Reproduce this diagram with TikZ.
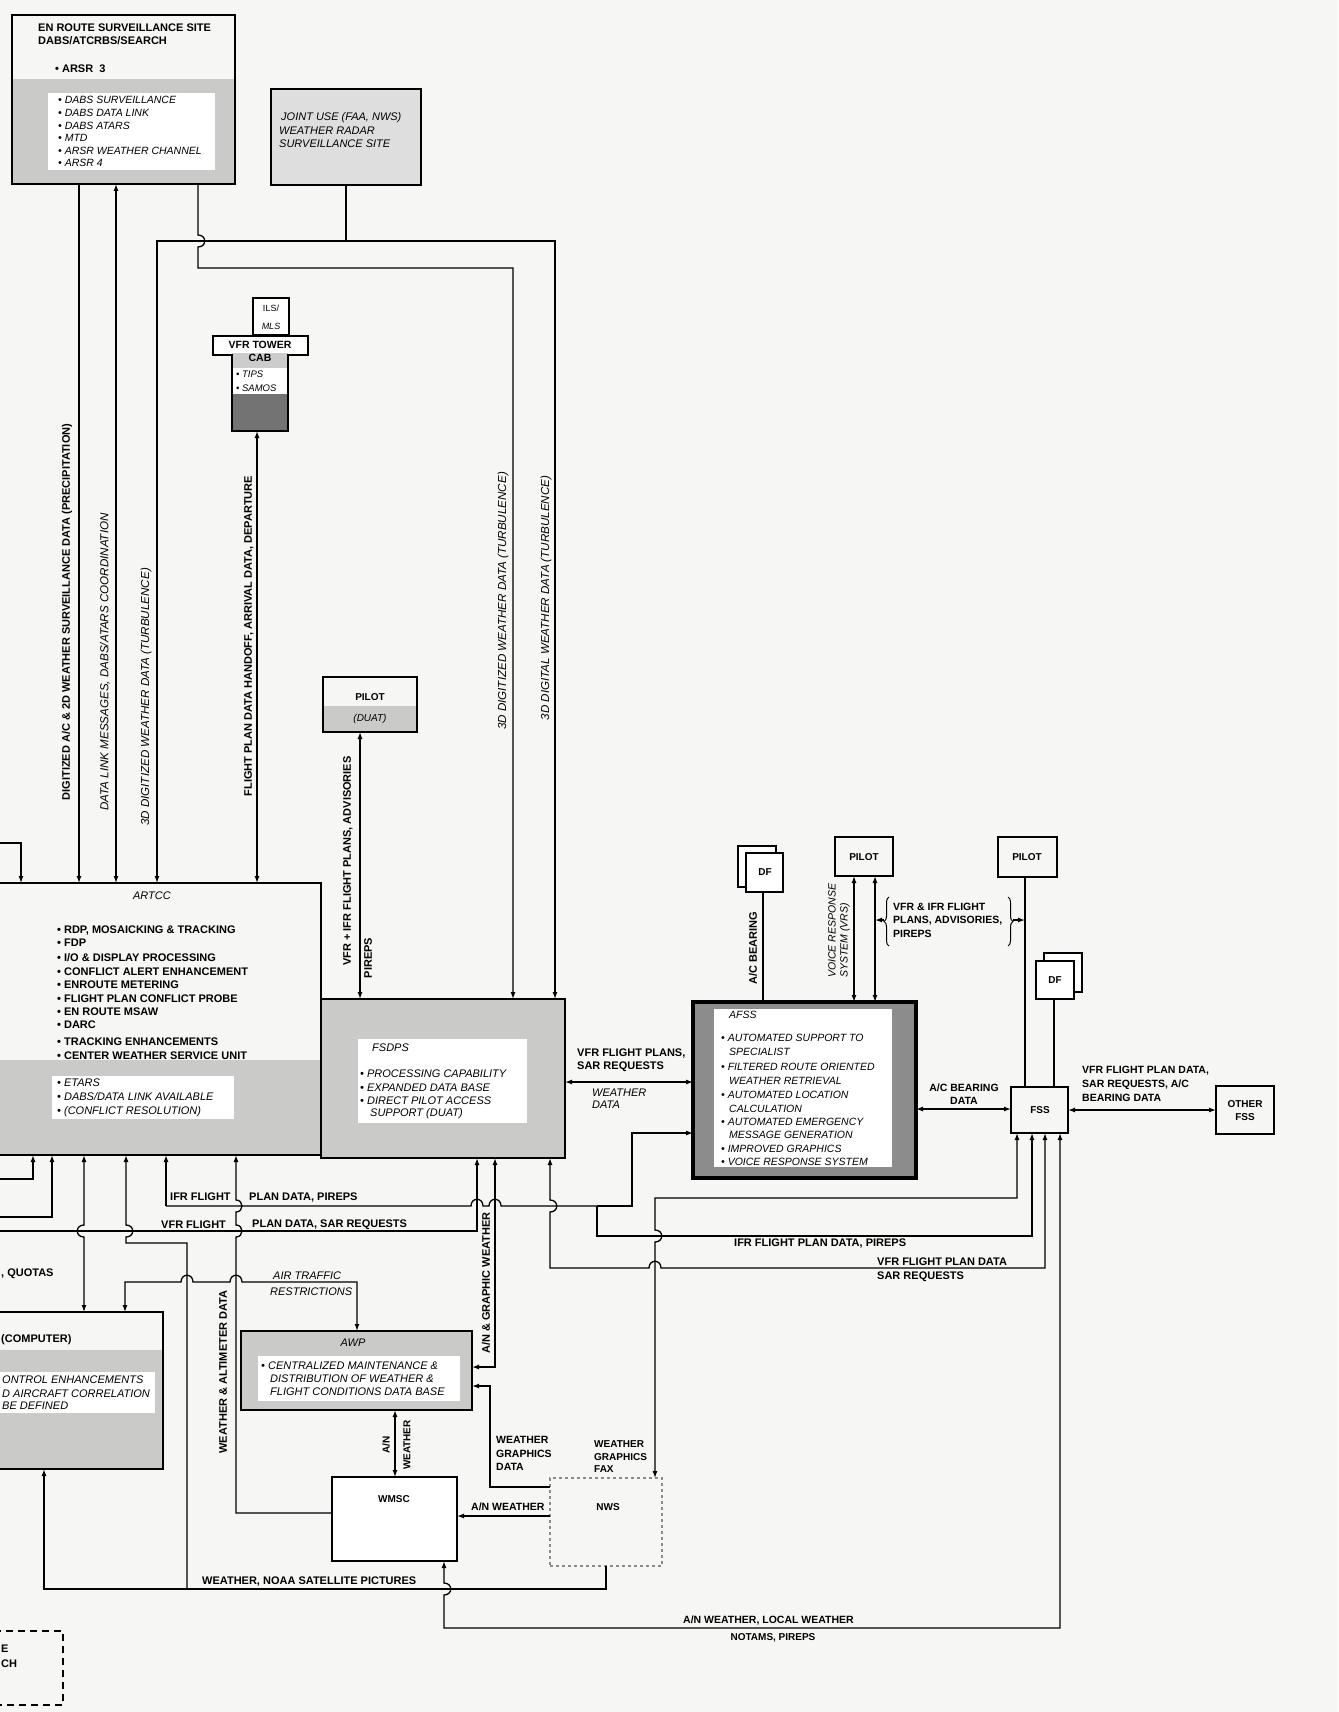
\documentclass[tikz,border=0pt]{standalone}
\usepackage{fontspec}
\setmainfont{Liberation Sans}
\usetikzlibrary{arrows.meta,decorations.pathreplacing}
\definecolor{paper}{RGB}{246,246,244}
\definecolor{halftone}{RGB}{202,202,200}
% hops: vertical going down / up (bulge #3), horizontal going right (bump up)
\newcommand{\hopD}[3]{-- (#1,{#2-6}) .. controls ({#1+(#3)},{#2-6}) and ({#1+(#3)},{#2+6}) .. (#1,{#2+6})}
\newcommand{\hopU}[3]{-- (#1,{#2+6}) .. controls ({#1+(#3)},{#2+6}) and ({#1+(#3)},{#2-6}) .. (#1,{#2-6})}
\newcommand{\hopR}[2]{-- ({#1-6},#2) .. controls ({#1-6},{#2-9}) and ({#1+6},{#2-9}) .. ({#1+6},#2)}
\begin{document}
\begin{tikzpicture}[x=1pt,y=-1pt,
  box/.style={draw, line width=2.6pt, inner sep=0pt, outer sep=0pt, anchor=north west},
  thinbox/.style={draw, line width=1.6pt, inner sep=0pt, outer sep=0pt, anchor=north west, fill=white},
  ln/.style={line width=1.3pt},
  arr/.style={ln,-{Latex[length=7pt,width=5pt]}},
  barr/.style={ln,{Latex[length=7pt,width=5pt]}-{Latex[length=7pt,width=5pt]}},
  tb/.style={font=\bfseries\fontsize{11}{13}\selectfont, inner sep=0pt},
  ti/.style={font=\itshape\fontsize{11}{13}\selectfont, inner sep=0pt},
  tir/.style={font=\itshape\fontsize{11.6}{13}\selectfont, inner sep=0pt},
  tbs/.style={font=\bfseries\fontsize{10}{12}\selectfont, inner sep=0pt},
  tis/.style={font=\itshape\fontsize{10.5}{12}\selectfont, inner sep=0pt},
]
\useasboundingbox (0,0) rectangle (1338,1712);
\fill[paper] (0,0) rectangle (1338,1712);

% ================= EN ROUTE SURVEILLANCE SITE
\fill[halftone] (12,79) rectangle (235,184);
\fill[white] (48,93) rectangle (215,170);
\node[box, minimum width=223pt, minimum height=169pt] (enroute) at (12,15) {};
\node[tb, anchor=west] (er1) at (38,28) {EN ROUTE SURVEILLANCE SITE};
\node[tb, anchor=west] (er2) at (38,41) {DABS/ATCRBS/SEARCH};
\node[tb, anchor=west] (er3) at (55,69) {• ARSR\ \ 3};
\node[tis, anchor=west] (er4) at (58,100) {• DABS SURVEILLANCE};
\node[tis, anchor=west] (er5) at (58,113) {• DABS DATA LINK};
\node[tis, anchor=west] (er6) at (58,126) {• DABS ATARS};
\node[tis, anchor=west] (er7) at (58,138) {• MTD};
\node[tis, anchor=west] (er8) at (58,151) {• ARSR WEATHER CHANNEL};
\node[tis, anchor=west] (er9) at (58,163) {• ARSR 4};

% ================= JOINT USE
\node[box, fill=black!13, minimum width=150pt, minimum height=96pt] (joint) at (271,89) {};
\node[ti, anchor=west] (jt1) at (281,118) {JOINT USE (FAA, NWS)};
\node[ti, anchor=west] (jt2) at (279,131) {WEATHER RADAR};
\node[ti, anchor=west] (jt3) at (279,144) {SURVEILLANCE SITE};

% ================= VFR TOWER
\node[thinbox, minimum width=36pt, minimum height=37pt] (ils) at (253,298) {};
\node[font=\fontsize{9}{10}\selectfont, inner sep=0pt] (ilst1) at (271,308) {ILS/};
\node[font=\itshape\fontsize{9}{10}\selectfont, inner sep=0pt] (ilst2) at (271,326) {MLS};
\fill[white] (213,336) -- (308,336) -- (308,355) -- (288,355) -- (288,431) -- (232,431) -- (232,355) -- (213,355) -- cycle;
\fill[black!20] (232,353) rectangle (288,368);
\fill[black!55] (232,394) rectangle (288,431);
\draw[line width=2.6pt] (213,336) -- (308,336) -- (308,355) -- (288,355) -- (288,431) -- (232,431) -- (232,355) -- (213,355) -- cycle;
\node[inner sep=0pt, outer sep=0pt, minimum width=56pt, minimum height=95pt, anchor=north west] (tower) at (232,336) {};
\node[tb, font=\bfseries\fontsize{10.5}{12}\selectfont] (tw1) at (260,345) {VFR TOWER};
\node[tb, font=\bfseries\fontsize{10.5}{12}\selectfont] (tw2) at (260,358) {CAB};
\node[tis, font=\itshape\fontsize{9.5}{11}\selectfont, anchor=west] (tw3) at (236,374) {• TIPS};
\node[tis, font=\itshape\fontsize{9.5}{11}\selectfont, anchor=west] (tw4) at (236,388) {• SAMOS};

% ================= PILOT (DUAT)
\fill[halftone] (323,706) rectangle (417,732);
\node[box, minimum width=94pt, minimum height=55pt] (pilotd) at (323,677) {};
\node[tbs] (pd1) at (370,697) {PILOT};
\node[tis, font=\itshape\fontsize{10}{12}\selectfont] (pd2) at (370,719) {(DUAT)};

% ================= ARTCC
\fill[halftone] (-5,1060) rectangle (321,1155);
\fill[white] (52,1076) rectangle (234,1119);
\node[box, minimum width=326pt, minimum height=272pt] (artcc) at (-5,883) {};
\node[ti] (ar0) at (152,896) {ARTCC};
\node[tb, anchor=west] (ar1) at (57,931) {• RDP, MOSAICKING \& TRACKING};
\node[tb, anchor=west] (ar2) at (57,943) {• FDP};
\node[tb, anchor=west] (ar3) at (57,958) {• I/O \& DISPLAY PROCESSING};
\node[tb, anchor=west] (ar4) at (57,972) {• CONFLICT ALERT ENHANCEMENT};
\node[tb, anchor=west] (ar5) at (57,985) {• ENROUTE METERING};
\node[tb, anchor=west] (ar6) at (57,999) {• FLIGHT PLAN CONFLICT PROBE};
\node[tb, anchor=west] (ar7) at (57,1012) {• EN ROUTE MSAW};
\node[tb, anchor=west] (ar8) at (57,1025) {• DARC};
\node[tb, anchor=west] (ar9) at (57,1042) {• TRACKING ENHANCEMENTS};
\node[tb, anchor=west] (ar10) at (57,1056) {• CENTER WEATHER SERVICE UNIT};
\node[ti, anchor=west] (ar11) at (57,1083) {• ETARS};
\node[ti, anchor=west] (ar12) at (57,1097) {• DABS/DATA LINK AVAILABLE};
\node[ti, anchor=west] (ar13) at (57,1112) {• (CONFLICT RESOLUTION)};

% ================= FSDPS
\node[box, fill=halftone, minimum width=244pt, minimum height=159pt] (fsdps) at (321,999) {};
\fill[white] (358,1039) rectangle (527,1123);
\node[ti, anchor=west] (fs0) at (372,1048) {FSDPS};
\node[ti, anchor=west] (fs1) at (360,1074) {• PROCESSING CAPABILITY};
\node[ti, anchor=west] (fs2) at (360,1088) {• EXPANDED DATA BASE};
\node[ti, anchor=west] (fs3) at (360,1101) {• DIRECT PILOT ACCESS};
\node[ti, anchor=west] (fs4) at (370,1114) {SUPPORT (DUAT)};

% ================= AFSS
\node[box, line width=3.4pt, fill=black!45, minimum width=223pt, minimum height=176pt] (afss) at (693,1002) {};
\fill[white] (714,1009) rectangle (892,1167);
\node[tis, anchor=west] (af0) at (729,1015) {AFSS};
\node[tis, anchor=west] (af1) at (721,1038) {• AUTOMATED SUPPORT TO};
\node[tis, anchor=west] (af2) at (729,1052) {SPECIALIST};
\node[tis, anchor=west] (af3) at (721,1067) {• FILTERED ROUTE ORIENTED};
\node[tis, anchor=west] (af4) at (729,1081) {WEATHER RETRIEVAL};
\node[tis, anchor=west] (af5) at (721,1095) {• AUTOMATED LOCATION};
\node[tis, anchor=west] (af6) at (729,1109) {CALCULATION};
\node[tis, anchor=west] (af7) at (721,1122) {• AUTOMATED EMERGENCY};
\node[tis, anchor=west] (af8) at (729,1135) {MESSAGE GENERATION};
\node[tis, anchor=west] (af9) at (721,1149) {• IMPROVED GRAPHICS};
\node[tis, anchor=west] (af10) at (721,1162) {• VOICE RESPONSE SYSTEM};

% ================= DF, PILOTS, FSS
\node[thinbox, minimum width=38pt, minimum height=41pt] (df1b) at (738,846) {};
\node[thinbox, minimum width=37pt, minimum height=39pt] (df1) at (746,853) {};
\node[tbs] (df1t) at (765,872) {DF};
\node[box, minimum width=58pt, minimum height=39pt] (pilot2) at (835,837) {};
\node[tbs] (p2t) at (864,857) {PILOT};
\node[box, minimum width=59pt, minimum height=40pt] (pilot3) at (998,837) {};
\node[tbs] (p3t) at (1027,857) {PILOT};
\node[thinbox, minimum width=38pt, minimum height=39pt] (df2b) at (1044,953) {};
\node[thinbox, minimum width=38pt, minimum height=38pt] (df2) at (1036,961) {};
\node[tbs] (df2t) at (1055,980) {DF};
\node[box, minimum width=57pt, minimum height=46pt] (fss) at (1011,1087) {};
\node[tbs] (fsst) at (1040,1110) {FSS};
\node[box, minimum width=58pt, minimum height=48pt] (other) at (1216,1086) {};
\node[tbs] (ot1) at (1245,1104) {OTHER};
\node[tbs] (ot2) at (1245,1117) {FSS};

% ================= AWP, WMSC, NWS, COMPUTER
\node[box, fill=halftone, minimum width=231pt, minimum height=79pt] (awp) at (241,1331) {};
\fill[white] (258,1356) rectangle (460,1401);
\node[ti] (aw0) at (353,1343) {AWP};
\node[ti, anchor=west] (aw1) at (261,1366) {• CENTRALIZED MAINTENANCE \&};
\node[ti, anchor=west] (aw2) at (270,1379) {DISTRIBUTION OF WEATHER \&};
\node[ti, anchor=west] (aw3) at (270,1392) {FLIGHT CONDITIONS DATA BASE};
\node[box, line width=2pt, fill=white, minimum width=125pt, minimum height=84pt] (wmsc) at (332,1477) {};
\node[tbs] (wmt) at (394,1499) {WMSC};
\node[draw=black!45, dashed, line width=1.2pt, inner sep=0pt, outer sep=0pt, anchor=north west, minimum width=112pt, minimum height=88pt] (nws) at (550,1478) {};
\node[tbs] (nwt) at (608,1507) {NWS};
\fill[halftone] (-5,1350) rectangle (163,1469);
\fill[white] (-5,1372) rectangle (155,1413);
\node[box, minimum width=168pt, minimum height=157pt] (comp) at (-5,1312) {};
\node[tb, anchor=west] (cp0) at (1,1340) {(COMPUTER)};
\node[ti, anchor=west] (cp1) at (2,1380) {ONTROL ENHANCEMENTS};
\node[ti, anchor=west] (cp2) at (2,1394) {D AIRCRAFT CORRELATION};
\node[ti, anchor=west] (cp3) at (2,1406) {BE DEFINED};
\node[tb, anchor=west] (qu) at (1,1274) {, QUOTAS};
\node[draw, line width=1.5pt, dash pattern=on 7pt off 5pt, inner sep=0pt, outer sep=0pt, anchor=north west, minimum width=68pt, minimum height=74pt] (site2) at (-5,1631) {};
\node[tb, anchor=west] (s2a) at (1,1649) {E};
\node[tb, anchor=west] (s2b) at (1,1664) {CH};

% ================= TOP CONNECTORS
\draw[arr] (79,184) -- (79,883);
\draw[barr] (116,184) -- (116,883);
\draw[arr] (198,184) \hopD{198}{241}{9} -- (198,268) -- (513,268) -- (513,999);
\draw[ln] (346,185) -- (346,241);
\draw[arr] (346,241) -- (157,241) -- (157,883);
\draw[arr] (346,241) -- (555,241) -- (555,999);
\draw[barr] (257,431) -- (257,883);
\draw[barr] (360,732) -- (360,999);
\draw[arr] (-5,843) -- (21,843) -- (21,883);

\node[tb, rotate=90] (l1) at (67,612) {DIGITIZED A/C \& 2D WEATHER SURVEILLANCE DATA (PRECIPITATION)};
\node[tir, rotate=90] (l2) at (105,662) {DATA LINK MESSAGES, DABS/ATARS COORDINATION};
\node[tir, rotate=90] (l3) at (146,697) {3D DIGITIZED WEATHER DATA (TURBULENCE)};
\node[tb, rotate=90] (l4) at (249,636) {FLIGHT PLAN DATA HANDOFF, ARRIVAL DATA, DEPARTURE};
\node[tir, rotate=90] (l5) at (503,601) {3D DIGITIZED WEATHER DATA (TURBULENCE)};
\node[tir, rotate=90] (l6) at (546,598) {3D DIGITAL WEATHER DATA (TURBULENCE)};
\node[tb, rotate=90] (l7) at (348,861) {VFR + IFR FLIGHT PLANS, ADVISORIES};
\node[tb, rotate=90] (l8) at (368,958) {PIREPS};

% ================= AFSS / FSS CONNECTORS
\draw[ln] (763,892) -- (763,1002);
\node[tb, rotate=90] (l9) at (753,948) {A/C BEARING};
\draw[barr] (854,876) -- (854,1002);
\draw[barr] (875,876) -- (875,1002);
\node[tis, rotate=90, anchor=west] (l10) at (832,978) {VOICE RESPONSE};
\node[tis, rotate=90, anchor=west] (l11) at (845,978) {SYSTEM (VRS)};
\draw[ln] (1025,877) -- (1025,1087);
\draw[ln] (1054,999) -- (1054,1087);
\draw[decorate, decoration={brace, amplitude=5pt}, line width=1pt] (889,946) -- (889,897);
\draw[decorate, decoration={brace, amplitude=5pt}, line width=1pt] (1008,897) -- (1008,946);
\draw[arr] (884,920) -- (875,920);
\draw[arr] (1013,920) -- (1025,920);
\node[tb, font=\bfseries\fontsize{10.5}{12}\selectfont, anchor=west] (l12) at (893,907) {VFR \& IFR FLIGHT};
\node[tb, font=\bfseries\fontsize{10.5}{12}\selectfont, anchor=west] (l13) at (893,921) {PLANS, ADVISORIES,};
\node[tb, font=\bfseries\fontsize{10.5}{12}\selectfont, anchor=west] (l14) at (893,934) {PIREPS};

\draw[barr] (565,1082) -- (693,1082);
\node[tb, anchor=west] (l15) at (577,1053) {VFR FLIGHT PLANS,};
\node[tb, anchor=west] (l16) at (577,1067) {SAR REQUESTS};
\node[ti, anchor=west] (l17) at (592,1093) {WEATHER};
\node[ti, anchor=west] (l18) at (592,1105) {DATA};
\draw[barr] (916,1109) -- (1011,1109);
\node[tb, font=\bfseries\fontsize{10.5}{12}\selectfont] (l19) at (964,1088) {A/C BEARING};
\node[tb, font=\bfseries\fontsize{10.5}{12}\selectfont] (l20) at (964,1101) {DATA};
\draw[barr] (1068,1110) -- (1216,1110);
\node[tb, font=\bfseries\fontsize{10.5}{12}\selectfont, anchor=west] (l21) at (1082,1071) {VFR FLIGHT PLAN DATA,};
\node[tb, font=\bfseries\fontsize{10.5}{12}\selectfont, anchor=west] (l22) at (1082,1085) {SAR REQUESTS, A/C};
\node[tb, font=\bfseries\fontsize{10.5}{12}\selectfont, anchor=west] (l23) at (1082,1098) {BEARING DATA};

% ================= BOTTOM CONNECTORS
\draw[arr] (-5,1179) -- (33,1179) -- (33,1155);
\draw[arr] (-5,1217) -- (52,1217) -- (52,1155);
\draw[barr] (84,1312) \hopU{84}{1231}{-9} -- (84,1155);
\draw[arr] (187,1589) -- (187,1243) -- (126,1243) \hopU{126}{1231}{9} -- (126,1155);
\draw[arr] (166,1206) -- (166,1155);
\draw[ln] (166,1206) \hopR{477}{1206} \hopR{495}{1206} -- (597,1206);
\draw[arr] (597,1206) -- (632,1206) -- (632,1133) -- (693,1133);
\draw[arr] (597,1206) -- (597,1236) -- (1032,1236) -- (1032,1133);
\draw[arr] (-5,1231) -- (477,1231) -- (477,1158);
\draw[barr] (472,1367) -- (495,1367) -- (495,1158);
\draw[barr] (550,1158) \hopD{550}{1206}{9} -- (550,1268) \hopR{655}{1268} -- (1045,1268) -- (1045,1133);
\draw[barr] (1017,1133) -- (1017,1198) -- (655,1198) \hopD{655}{1236}{9} -- (655,1478);
\draw[barr] (125,1312) -- (125,1282) \hopR{187}{1282} \hopR{236}{1282} -- (357,1282) -- (357,1331);
\draw[arr] (332,1513) -- (236,1513) \hopU{236}{1231}{8} \hopU{236}{1206}{8} -- (236,1155);
\draw[barr] (395,1410) -- (395,1477);
\draw[arr] (550,1516) -- (457,1516);
\draw[arr] (550,1487) -- (490,1487) -- (490,1386) -- (472,1386);
\draw[arr] (606,1566) -- (606,1589) -- (44,1589) -- (44,1469);
\draw[barr] (1060,1133) -- (1060,1628) -- (444,1628) \hopU{444}{1589}{9} -- (444,1561);

% ================= BOTTOM LABELS
\node[tb, anchor=west] (b1) at (170,1197) {IFR FLIGHT};
\node[tb, anchor=west] (b1b) at (249,1197) {PLAN DATA, PIREPS};
\node[tb, anchor=west] (b2) at (161,1225) {VFR FLIGHT};
\node[tb, anchor=west] (b3) at (252,1225) {PLAN DATA, SAR REQUESTS};
\node[ti, anchor=west] (b4) at (273,1276) {AIR TRAFFIC};
\node[ti, anchor=west] (b5) at (270,1292) {RESTRICTIONS};
\node[tb, anchor=west] (b6) at (734,1243) {IFR FLIGHT PLAN DATA, PIREPS};
\node[tb, anchor=west] (b7) at (877,1262) {VFR FLIGHT PLAN DATA};
\node[tb, anchor=west] (b8) at (877,1277) {SAR REQUESTS};
\node[tb, rotate=90] (b9) at (486,1283) {A/N \& GRAPHIC WEATHER};
\node[tb, rotate=90] (b10) at (223,1372) {WEATHER \& ALTIMETER DATA};
\node[tbs, rotate=90] (b11) at (386,1445) {A/N};
\node[tbs, rotate=90] (b12) at (407,1445) {WEATHER};
\node[tb, font=\bfseries\fontsize{10.5}{12}\selectfont, anchor=west] (b13) at (496,1440) {WEATHER};
\node[tb, font=\bfseries\fontsize{10.5}{12}\selectfont, anchor=west] (b14) at (496,1454) {GRAPHICS};
\node[tb, font=\bfseries\fontsize{10.5}{12}\selectfont, anchor=west] (b15) at (496,1467) {DATA};
\node[tb, font=\bfseries\fontsize{10}{12}\selectfont, anchor=west] (b16) at (594,1444) {WEATHER};
\node[tb, font=\bfseries\fontsize{10}{12}\selectfont, anchor=west] (b17) at (594,1457) {GRAPHICS};
\node[tb, font=\bfseries\fontsize{10}{12}\selectfont, anchor=west] (b18) at (594,1469) {FAX};
\node[tb, font=\bfseries\fontsize{10.5}{12}\selectfont, anchor=west] (b19) at (471,1507) {A/N WEATHER};
\node[tb, anchor=west] (b20) at (202,1581) {WEATHER, NOAA SATELLITE PICTURES};
\node[tb, font=\bfseries\fontsize{10.5}{12}\selectfont, anchor=west] (b21) at (683,1620) {A/N WEATHER, LOCAL WEATHER};
\node[tb, font=\bfseries\fontsize{10}{12}\selectfont] (b22) at (773,1638) {NOTAMS, PIREPS};
\end{tikzpicture}
\end{document}
